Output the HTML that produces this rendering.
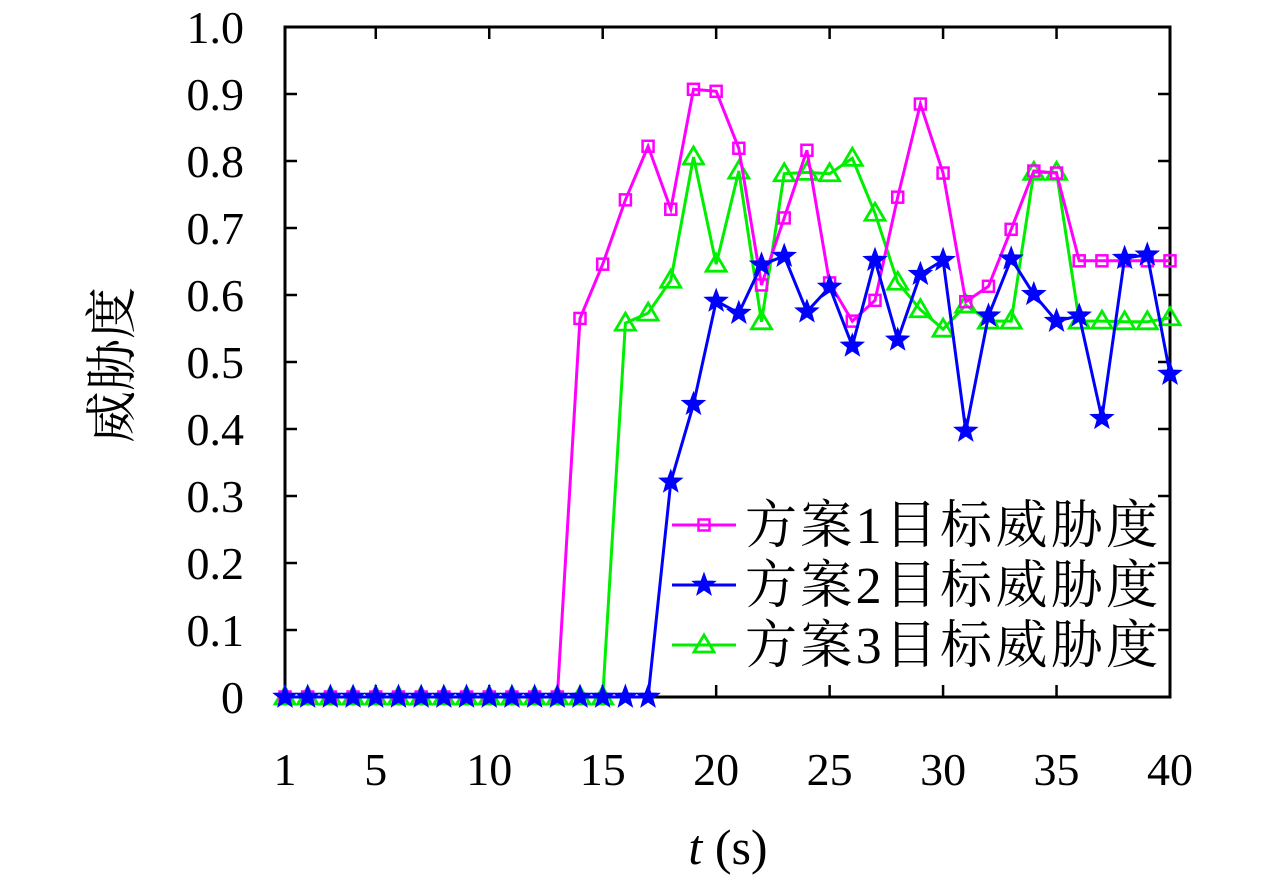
<!DOCTYPE html>
<html><head><meta charset="utf-8"><style>
body{margin:0;background:#fff;}
svg text{font-family:"Liberation Serif","Noto Serif CJK SC",serif;fill:#000;}
</style></head><body>
<svg id="chart" width="1280" height="878" xmlns="http://www.w3.org/2000/svg">
<g id="axes"></g><g id="series"></g><g id="legend"></g>
</svg>
<script>
const times=[1,2,3,4,5,6,7,8,9,10,11,12,13,14,15,16,17,18,19,20,21,22,23,24,25,26,27,28,29,30,31,32,33,34,35,36,37,38,39,40];
const plan1=[0,0,0,0,0,0,0,0,0,0,0,0,0,0.565,0.646,0.742,0.822,0.728,0.907,0.904,0.819,0.615,0.715,0.816,0.618,0.561,0.592,0.746,0.885,0.782,0.59,0.613,0.698,0.785,0.782,0.651,0.651,0.651,0.651,0.651];
const plan2=[0,0,0,0,0,0,0,0,0,0,0,0,0,0,0,0,0,0.321,0.437,0.591,0.573,0.645,0.658,0.575,0.612,0.524,0.652,0.533,0.631,0.652,0.397,0.569,0.654,0.601,0.561,0.569,0.416,0.655,0.660,0.482];
const plan3=[0,0,0,0,0,0,0,0,0,0,0,0,0,0,0,0.558,0.573,0.622,0.806,0.646,0.785,0.56,0.781,0.783,0.781,0.804,0.722,0.619,0.578,0.549,0.585,0.561,0.561,0.783,0.783,0.561,0.561,0.56,0.56,0.566];
const xTicks=[1,5,10,15,20,25,30,35,40];
const yTicks=[0,0.1,0.2,0.3,0.4,0.5,0.6,0.7,0.8,0.9,1.0];
const yTickLabels=["0","0.1","0.2","0.3","0.4","0.5","0.6","0.7","0.8","0.9","1.0"];
const seriesNames=["方案1目标威胁度","方案2目标威胁度","方案3目标威胁度"];

const L=285,R=1170,T=27,B=697;
const xs=t=>L+(t-1)/39*(R-L);
const ys=v=>B-v*(B-T);
const NS="http://www.w3.org/2000/svg";
function mk(tag,attrs,parent){const e=document.createElementNS(NS,tag);for(const k in attrs)e.setAttribute(k,attrs[k]);parent.appendChild(e);return e;}
const axes=document.getElementById('axes');
const frame=mk('rect',{x:L,y:T,width:R-L,height:B-T,fill:'none',stroke:'#000','stroke-width':3},axes);


xTicks.forEach(t=>{
  const x=xs(t);
  const tk=mk('path',{d:`M${x},${B}v-12M${x},${T}v12`,stroke:'#000','stroke-width':2.5},axes);
  
  
  const tx=mk('text',{x:x,y:785,'font-size':46,'text-anchor':'middle'},axes);tx.textContent=t;
  
  
});
yTicks.forEach((v,i)=>{
  const y=ys(v);
  const tk=mk('path',{d:`M${L},${y}h12M${R},${y}h-12`,stroke:'#000','stroke-width':2.5},axes);
  
  
  const tx=mk('text',{x:244,y:y+16,'font-size':46,'text-anchor':'end'},axes);tx.textContent=yTickLabels[i];
  
  
});
const yt=mk('text',{x:0,y:0,'font-size':52,'text-anchor':'middle',transform:'translate(130,365) rotate(-90)'},axes);
yt.textContent='威胁度';


const xt=mk('text',{x:728,y:864,'font-size':50,'text-anchor':'middle'},axes);
xt.innerHTML='<tspan font-style="italic">t</tspan> (s)';



function marker(kind,x,y,color,parent){
  let e;
  if(kind==='square') e=mk('rect',{x:x-5.5,y:y-5.5,width:11,height:11,fill:'none',stroke:color,'stroke-width':2.5},parent);
  else if(kind==='tri') e=mk('path',{d:`M${x},${y-10}L${x+10},${y+7}L${x-10},${y+7}Z`,fill:'none',stroke:color,'stroke-width':2.8},parent);
  else {let d='';for(let k=0;k<10;k++){const r=k%2?5:12;const a=-Math.PI/2+k*Math.PI/5;d+=(k?'L':'M')+(x+r*Math.cos(a)).toFixed(1)+','+(y+r*Math.sin(a)).toFixed(1);}
    e=mk('path',{d:d+'Z',fill:color,stroke:color,'stroke-width':1},parent);}
  return e;
}
const cfg=[[plan1,'#ff00ff','square'],[plan2,'#0000ff','star'],[plan3,'#00ee00','tri']];
const sg=document.getElementById('series');
[2,0,1].forEach(i=>{
  const [data,color,kind]=cfg[i];
  const g=mk('g',{},sg);
  
  
  const pts=data.map((v,j)=>xs(times[j]).toFixed(1)+','+ys(v).toFixed(1)).join(' ');
  const ln=mk('polyline',{points:pts,fill:'none',stroke:color,'stroke-width':3},g);
  
  
  data.forEach((v,j)=>{const m=marker(kind,xs(times[j]),ys(v),color,g);
    
    });
});
const lg=document.getElementById('legend');
cfg.forEach(([d,color,kind],i)=>{
  const y=525+i*60;
  const g=mk('g',{},lg);
  
  
  mk('line',{x1:672,y1:y,x2:736,y2:y,stroke:color,'stroke-width':3},g);
  marker(kind,704,y,color,g);
  const t=mk('text',{x:745,y:y+18,'font-size':52,textLength:413,lengthAdjust:'spacing'},g);t.textContent=seriesNames[i];
});
</script>
</body></html>
